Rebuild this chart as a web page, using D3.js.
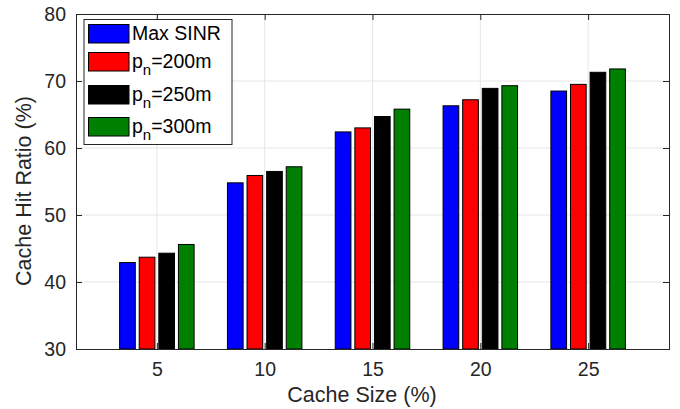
<!DOCTYPE html>
<html>
<head>
<meta charset="utf-8">
<script src="https://cdn.jsdelivr.net/npm/d3@7"></script>
<style>
  html, body { margin: 0; padding: 0; background: #fff; }
  svg { display: block; font-family: "Liberation Sans", Arial, Helvetica, sans-serif; }
</style>
</head>
<body>
<svg id="chart" width="680" height="409"></svg>
<script>
// ---- data ----
const categories = [5, 10, 15, 20, 25];
const seriesNames = ["Max SINR", "p_n=200m", "p_n=250m", "p_n=300m"];
const maxSINR = [42.9, 54.8, 62.4, 66.3, 68.5];
const pn200 = [43.7, 55.9, 63.0, 67.2, 69.5];
const pn250 = [44.3, 56.5, 64.7, 68.9, 71.3];
const pn300 = [45.6, 57.2, 65.8, 69.3, 71.8];
const yTicks = [30, 40, 50, 60, 70, 80];
const xTicks = [5, 10, 15, 20, 25];
const colors = ["#0000ff", "#ff0000", "#000000", "#008000"];
const xLabel = "Cache Size (%)";
const yLabel = "Cache Hit Ratio (%)";

const series = [maxSINR, pn200, pn250, pn300];

// ---- layout ----
const svg = d3.select("#chart");
const L = 76, R = 669, T = 14, B = 349;
const axisColor = "#262626";
const gridColor = "#e6e6e6";

const x = d3.scaleLinear().domain([1.25, 28.75]).range([L, R]);
const y = d3.scaleLinear().domain([30, 80]).range([B, T]);

// grid
const g = svg.append("g");
g.selectAll("line.hg").data(yTicks.slice(1, -1)).enter().append("line")
  .attr("x1", L).attr("x2", R).attr("y1", d => y(d)).attr("y2", d => y(d))
  .attr("stroke", gridColor).attr("stroke-width", 1);
g.selectAll("line.vg").data(xTicks).enter().append("line")
  .attr("y1", T).attr("y2", B).attr("x1", d => x(d)).attr("x2", d => x(d))
  .attr("stroke", gridColor).attr("stroke-width", 1);

// bars
const nS = series.length;
const groupWidth = Math.min(0.8, nS / (nS + 1.5)) * 5;
const slot = groupWidth / nS;
const barW = slot * 0.8;
series.forEach((vals, si) => {
  svg.append("g").selectAll("rect").data(vals).enter().append("rect")
    .attr("x", (d, i) => x(categories[i] - groupWidth / 2 + slot * si + (slot - barW) / 2))
    .attr("width", x(barW) - x(0))
    .attr("y", d => y(d))
    .attr("height", d => y(30) - y(d))
    .attr("fill", colors[si])
    .attr("stroke", "#000")
    .attr("stroke-width", 1);
});

// axes
const xAxisB = d3.axisBottom(x).tickValues(xTicks).tickSize(-6).tickPadding(13).tickFormat(d3.format("d"));
const xAxisT = d3.axisTop(x).tickValues(xTicks).tickSize(-6).tickFormat("");
const yAxisL = d3.axisLeft(y).tickValues(yTicks).tickSize(-6).tickPadding(10).tickFormat(d3.format("d"));
const yAxisR = d3.axisRight(y).tickValues(yTicks).tickSize(-6).tickFormat("");

function style(sel) {
  sel.select(".domain").attr("stroke", axisColor).attr("stroke-width", 1);
  sel.selectAll(".tick line").attr("stroke", axisColor).attr("stroke-width", 1);
  sel.selectAll(".tick text").attr("fill", axisColor).style("font-size", "19.5px")
    .style("font-family", "'Liberation Sans', Arial, sans-serif");
}
svg.append("g").attr("transform", `translate(0,${B})`).call(xAxisB).call(style);
svg.append("g").attr("transform", `translate(0,${T})`).call(xAxisT).call(style);
svg.append("g").attr("transform", `translate(${L},0)`).call(yAxisL).call(style);
svg.append("g").attr("transform", `translate(${R},0)`).call(yAxisR).call(style);

// axis labels
svg.append("text").attr("x", 362).attr("y", 402)
  .attr("text-anchor", "middle").attr("fill", axisColor)
  .style("font-size", "21.5px").text(xLabel);
svg.append("text").attr("transform", `translate(31,191) rotate(-90)`)
  .attr("text-anchor", "middle").attr("fill", axisColor)
  .style("font-size", "21.5px").text(yLabel);

// legend
const lg = svg.append("g");
lg.append("rect").attr("x", 84).attr("y", 19.5).attr("width", 148).attr("height", 125)
  .attr("fill", "#fff").attr("stroke", axisColor).attr("stroke-width", 1);
const rowY = [33.5, 61.5, 94.5, 126.5];
seriesNames.forEach((name, i) => {
  lg.append("rect").attr("x", 88.5).attr("y", rowY[i] - 9).attr("width", 40.5).attr("height", 18.5)
    .attr("fill", colors[i]).attr("stroke", "#000").attr("stroke-width", 1);
  const t = lg.append("text").attr("x", 132).attr("y", rowY[i] + 6.5)
    .attr("fill", "#000").style("font-size", "19.5px");
  if (name.includes("_")) {
    const [base, rest] = name.split("_");
    const sub = rest.charAt(0), tail = rest.slice(1);
    t.append("tspan").text(base);
    t.append("tspan").attr("dy", 7).style("font-size", "15px").text(sub);
    t.append("tspan").attr("dy", -7).text(tail);
  } else {
    t.text(name);
  }
});
</script>
</body>
</html>
